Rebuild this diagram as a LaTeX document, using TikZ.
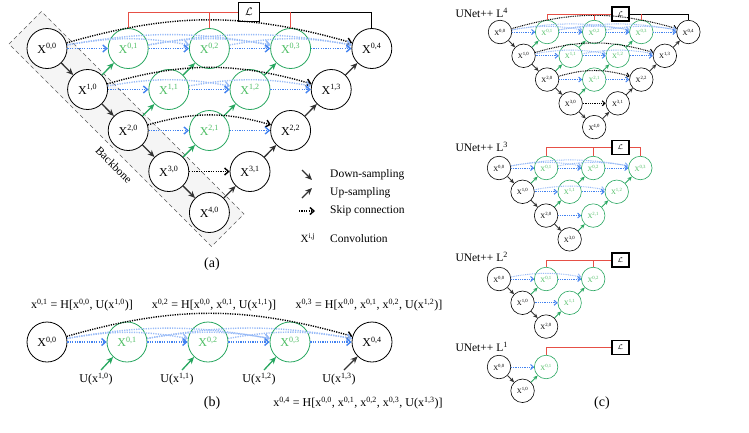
\documentclass[tikz,border=0pt]{standalone}
\usepackage{fontspec}
\setmainfont{Liberation Serif}
\usetikzlibrary{arrows.meta}
\definecolor{gline}{RGB}{40,167,96}
\definecolor{gtext}{RGB}{78,190,100}
\definecolor{redl}{RGB}{230,80,70}
\definecolor{bluel}{RGB}{66,130,240}
\definecolor{darkarr}{RGB}{50,50,50}
\tikzset{
 bnode/.style={circle, draw=black, fill=white, text=black, line width=\nlw, minimum size=\nsize, inner sep=0pt, font=\nfont},
 gnode/.style={bnode, draw=gline, text=gtext},
 downarr/.style={draw=darkarr, line width=\alw, -{Stealth[length=\alen, width=\awid]}},
 uparr/.style={draw=gline, line width=\alw, -{Stealth[length=\alen, width=\awid]}},
 skipb/.style={draw=bluel, line width=\slw, dash pattern=on \sdash off \sdash, -{Straight Barb[length=\salen, width=\sawid]}},
 skipk/.style={skipb, draw=black},
 skipf/.style={skipb, draw=bluel!55},
 lossbox/.style={draw=black, fill=white, line width=\blw, minimum width=\bw, minimum height=\bh, inner sep=0pt, font=\bfont},
 redline/.style={draw=redl, line width=\llw},
 blkline/.style={draw=black, line width=\llw},
 txt/.style={font=\fontsize{12}{14}\selectfont, inner sep=0pt},
 legtxt/.style={font=\fontsize{11.5}{13}\selectfont, inner sep=0pt, anchor=west},
 captxt/.style={font=\fontsize{14}{16}\selectfont, inner sep=0pt},
}
\newcommand{\setbig}{\def\nlw{0.8pt}\def\nsize{40pt}\def\nfont{\fontsize{12}{14}\selectfont}\def\alw{1.3pt}\def\alen{7pt}\def\awid{6pt}\def\slw{1.4pt}\def\sdash{1.2pt}\def\salen{4pt}\def\sawid{7pt}\def\blw{1.2pt}\def\bw{21pt}\def\bh{19pt}\def\bfont{\fontsize{11}{12}\selectfont}\def\llw{1pt}\def\bendA{16}\def\bendB{10}}
\newcommand{\setsmall}{\def\nlw{0.6pt}\def\nsize{23.5pt}\def\nfont{\fontsize{6.8}{8}\selectfont}\def\alw{0.9pt}\def\alen{4.5pt}\def\awid{4pt}\def\slw{1pt}\def\sdash{0.9pt}\def\salen{2.8pt}\def\sawid{5pt}\def\blw{1.1pt}\def\bw{17pt}\def\bh{14pt}\def\bfont{\fontsize{7}{8}\selectfont}\def\llw{0.8pt}\def\bendA{16}\def\bendB{10}}
\newcommand{\skiprow}[4]{%
  \foreach \k in {1,...,#3}{%
    \pgfmathtruncatemacro{\km}{\k-1}%
    \foreach \j in {0,...,\km}{%
      \pgfmathtruncatemacro{\dd}{\k-\j}%
      \pgfmathtruncatemacro{\isblk}{(\j==0)&&(#4==1)&&(\k==#3)}%
      \ifnum\dd=1\relax
        \ifnum\isblk=1\relax \draw[skipk] (#1-#2-\j) -- (#1-#2-\k);%
        \else \draw[skipb] (#1-#2-\j) -- (#1-#2-\k);\fi
      \else
        \ifnum\isblk=1\relax \draw[skipk] (#1-#2-\j) to[bend left=\bendA] (#1-#2-\k);%
        \else \draw[skipf] (#1-#2-\j) to[bend left=\bendB] (#1-#2-\k);\fi
      \fi
    }%
  }%
}
\newcommand{\unetnet}[6]{%
  \foreach \i in {0,...,#2}{%
    \pgfmathtruncatemacro{\jmax}{#2-\i}%
    \foreach \j in {0,...,\jmax}{%
      \pgfmathsetmacro{\px}{#3+40.6*#5*(\i+2*\j)}%
      \pgfmathsetmacro{\py}{-(#4+41*#5*\i)}%
      \pgfmathtruncatemacro{\isblk}{(\j==0)||((#6==1)&&(\i+\j==#2))}%
      \ifnum\isblk=1\relax
        \node[bnode] (#1-\i-\j) at (\px,\py) {X\textsuperscript{\i,\j}};%
      \else
        \node[gnode] (#1-\i-\j) at (\px,\py) {X\textsuperscript{\i,\j}};%
      \fi
    }%
  }%
  \pgfmathtruncatemacro{\Lm}{#2-1}%
  \foreach \i in {0,...,\Lm}{%
    \pgfmathtruncatemacro{\ip}{\i+1}%
    \draw[downarr] (#1-\i-0) -- (#1-\ip-0);%
  }%
  \foreach \i in {0,...,\Lm}{%
    \pgfmathtruncatemacro{\kmax}{#2-\i}%
    \pgfmathtruncatemacro{\ip}{\i+1}%
    \foreach \k in {1,...,\kmax}{%
      \pgfmathtruncatemacro{\km}{\k-1}%
      \pgfmathtruncatemacro{\isblk}{(#6==1)&&(\i+\k==#2)}%
      \ifnum\isblk=1\relax
        \draw[downarr] (#1-\ip-\km) -- (#1-\i-\k);%
      \else
        \draw[uparr] (#1-\ip-\km) -- (#1-\i-\k);%
      \fi
    }%
    \skiprow{#1}{\i}{\kmax}{#6}%
  }%
}
\begin{document}
\begin{tikzpicture}[x=1pt,y=1pt]
\useasboundingbox (0,0) rectangle (749,-432);
\setbig
% ---------- (a) ----------
\path[draw=gray!70!black, fill=gray!8, line width=0.6pt, dash pattern=on 4pt off 3pt]
  (9,-44) -- (41.5,-11.5) -- (244,-214) -- (211.5,-246.5) -- cycle;
\node[font=\fontsize{11.5}{13}\selectfont, rotate=-45] (bbl) at (114,-165) {Backbone};
\node[lossbox] (La) at (249,-12) {$\mathcal{L}$};
\unetnet{a}{4}{47}{48.5}{1}{1}
\draw[redline] (a-0-1.north) |- (La.west);
\draw[redline] (a-0-2.north) -- (a-0-2.north |- La.west);
\draw[blkline] (La.east) -| (a-0-4.north);
\draw[redline] (a-0-3.north) -- (a-0-3.north |- La.east);
% legend
\coordinate (ld1) at (302,-170); \coordinate (ld2) at (312,-180);
\coordinate (lu1) at (302,-198); \coordinate (lu2) at (312,-188);
\coordinate (ls1) at (299,-211); \coordinate (ls2) at (315,-211);
\draw[downarr] (ld1) -- (ld2);
\draw[downarr] (lu1) -- (lu2);
\draw[skipk] (ls1) -- (ls2);
\node[txt, font=\fontsize{11}{13}\selectfont] (lx) at (308,-238) {X\textsuperscript{i,j}};
\node[legtxt] (lt1) at (330,-175) {Down-sampling};
\node[legtxt] (lt2) at (330,-193) {Up-sampling};
\node[legtxt] (lt3) at (330,-211) {Skip connection};
\node[legtxt] (lt4) at (330,-239) {Convolution};
\node[captxt] (capa) at (212,-264) {(a)};
% ---------- (b) ----------
\node[bnode] (b-0-0) at (47,-342) {X\textsuperscript{0,0}};
\node[gnode] (b-0-1) at (127,-342) {X\textsuperscript{0,1}};
\node[gnode] (b-0-2) at (208,-342) {X\textsuperscript{0,2}};
\node[gnode] (b-0-3) at (290,-342) {X\textsuperscript{0,3}};
\node[bnode] (b-0-4) at (372,-342) {X\textsuperscript{0,4}};
\skiprow{b}{0}{4}{1}
\node[txt] (e1) at (82,-305) {x\textsuperscript{0,1} = H[x\textsuperscript{0,0}, U(x\textsuperscript{1,0})]};
\node[txt] (e2) at (214,-305) {x\textsuperscript{0,2} = H[x\textsuperscript{0,0}, x\textsuperscript{0,1}, U(x\textsuperscript{1,1})]};
\node[txt] (e3) at (369,-305) {x\textsuperscript{0,3} = H[x\textsuperscript{0,0}, x\textsuperscript{0,1}, x\textsuperscript{0,2}, U(x\textsuperscript{1,2})]};
\node[txt] (e4) at (358,-403) {x\textsuperscript{0,4} = H[x\textsuperscript{0,0}, x\textsuperscript{0,1}, x\textsuperscript{0,2}, x\textsuperscript{0,3}, U(x\textsuperscript{1,3})]};
\node[txt] (u1) at (96,-379) {U(x\textsuperscript{1,0})};
\node[txt] (u2) at (177,-379) {U(x\textsuperscript{1,1})};
\node[txt] (u3) at (259,-379) {U(x\textsuperscript{1,2})};
\node[txt] (u4) at (339,-379) {U(x\textsuperscript{1,3})};
\coordinate (ua1) at (101,-370); \coordinate (ua2) at (182,-370);
\coordinate (ua3) at (264,-370); \coordinate (ua4) at (344,-370);
\draw[uparr] (ua1) -- (b-0-1);
\draw[uparr] (ua2) -- (b-0-2);
\draw[uparr] (ua3) -- (b-0-3);
\draw[downarr] (ua4) -- (b-0-4);
\node[captxt] (capb) at (212,-403) {(b)};
% ---------- (c) ----------
\setsmall
\node[lossbox] (L4b) at (620.5,-14) {$\mathcal{L}$};
\unetnet{c4}{4}{500}{32}{0.58}{1}
\draw[redline] (c4-0-1.north) |- (L4b.west);
\draw[redline] (c4-0-2.north) -- (c4-0-2.north |- L4b.west);
\draw[blkline] (L4b.east) -| (c4-0-4.north);
\draw[redline] (c4-0-3.north) -- (c4-0-3.north |- L4b.east);
\node[legtxt, anchor=east] (t4) at (508,-13) {UNet++ L\textsuperscript{4}};
\node[lossbox] (L3b) at (620.5,-147.5) {$\mathcal{L}$};
\unetnet{c3}{3}{499}{168}{0.58}{0}
\draw[redline] (c3-0-1.north) |- (L3b.west);
\draw[redline] (c3-0-2.north) -- (c3-0-2.north |- L3b.west);
\draw[redline] (L3b.east) -| (c3-0-3.north);
\node[legtxt, anchor=east] (t3) at (508,-147) {UNet++ L\textsuperscript{3}};
\node[lossbox] (L2b) at (620.5,-260) {$\mathcal{L}$};
\unetnet{c2}{2}{499}{279}{0.58}{0}
\draw[redline] (c2-0-1.north) |- (L2b.west);
\draw[redline] (c2-0-2.north) -- (c2-0-2.north |- L2b.west);
\node[legtxt, anchor=east] (t2) at (508,-257) {UNet++ L\textsuperscript{2}};
\node[lossbox] (L1b) at (620.5,-347.5) {$\mathcal{L}$};
\unetnet{c1}{1}{499}{367}{0.58}{0}
\draw[redline] (c1-0-1.north) |- (L1b.west);
\node[legtxt, anchor=east] (t1) at (508,-347) {UNet++ L\textsuperscript{1}};
\node[captxt] (capc) at (602,-403) {(c)};
\end{tikzpicture}
\end{document}
